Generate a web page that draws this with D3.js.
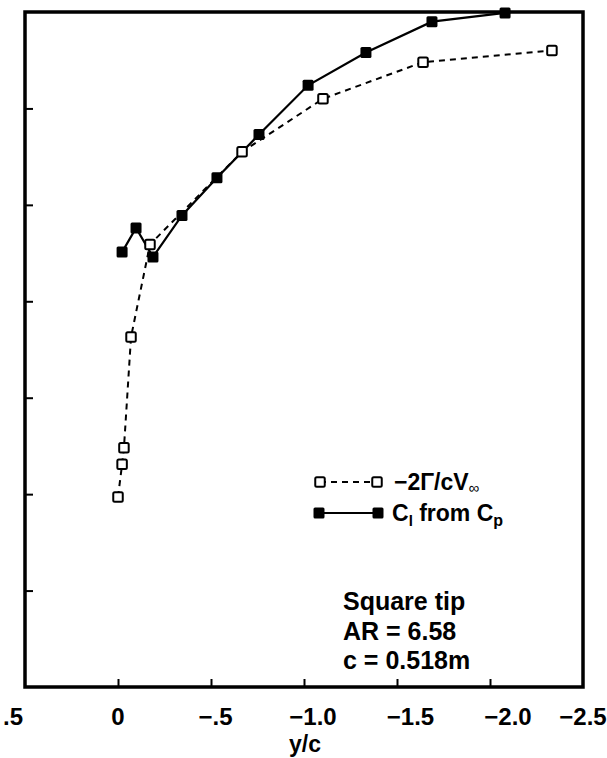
<!DOCTYPE html>
<html>
<head>
<meta charset="utf-8">
<script src="https://cdn.jsdelivr.net/npm/d3@7"></script>
<style>
  html, body { margin: 0; padding: 0; background: #fff; }
  svg { display: block; }
  text { font-family: "Liberation Sans", Arial, Helvetica, sans-serif; font-weight: bold; fill: #000; }
</style>
</head>
<body>
<svg id="chart" width="607" height="758"></svg>
<script>
// ---- data ----
const gammaX = [0.0, -0.022, -0.032, -0.070, -0.172, -0.667, -1.102, -1.640, -2.333];
const gammaY = [0.197, 0.231, 0.248, 0.363, 0.459, 0.555, 0.610, 0.648, 0.660];

const clX = [-0.022, -0.097, -0.188, -0.344, -0.532, -0.758, -1.022, -1.333, -1.688, -2.081];
const clY = [0.451, 0.476, 0.446, 0.489, 0.528, 0.573, 0.624, 0.658, 0.690, 0.699];

const xTickValues = [0.5, 0, -0.5, -1.0, -1.5, -2.0, -2.5];
const xTickLabels = [".5", "0", "\u2212.5", "\u22121.0", "\u22121.5", "\u22122.0", "\u22122.5"];
const yTickValues = [0.1, 0.2, 0.3, 0.4, 0.5, 0.6];

// ---- layout ----
const svg = d3.select("#chart");
const L = 25, R = 583, T = 12, B = 687;

const x = d3.scaleLinear().domain([0.5, -2.5]).range([L, R]);
const y = d3.scaleLinear().domain([0, 0.7]).range([B, T]);
// the printed tick labels sit on a slightly wider pitch than the tick marks
const xLabel = d3.scaleLinear().domain([0.5, 0, -2.0, -2.5]).range([13, 118, 508, 583]);

// axes ticks (inside)
const xAxis = d3.axisTop(x).tickValues(xTickValues.slice(1, -1)).tickSize(8).tickFormat("");
const gx = svg.append("g").attr("transform", `translate(0,${B})`).call(xAxis);
gx.select(".domain").remove();
gx.selectAll("line").attr("stroke", "#000").attr("stroke-width", 2);

const yAxis = d3.axisRight(y).tickValues(yTickValues).tickSize(8).tickFormat("");
const gy = svg.append("g").attr("transform", `translate(${L},0)`).call(yAxis);
gy.select(".domain").remove();
gy.selectAll("line").attr("stroke", "#000").attr("stroke-width", 2);

// frame
svg.append("rect")
  .attr("x", L).attr("y", T).attr("width", R - L).attr("height", B - T)
  .attr("fill", "none").attr("stroke", "#000").attr("stroke-width", 3.5);

// tick labels
svg.append("g").selectAll("text")
  .data(xTickValues)
  .join("text")
  .attr("x", d => xLabel(d))
  .attr("y", 725)
  .attr("text-anchor", "middle")
  .attr("font-size", 24)
  .text((d, i) => xTickLabels[i]);

// axis title
svg.append("text")
  .attr("x", 305).attr("y", 752)
  .attr("text-anchor", "middle")
  .attr("font-size", 23)
  .text("y/c");

// ---- series ----
const gammaPts = gammaX.map((v, i) => [v, gammaY[i]]);
const clPts = clX.map((v, i) => [v, clY[i]]);
const line = d3.line().x(d => x(d[0])).y(d => y(d[1]));

svg.append("path")
  .attr("d", line(gammaPts))
  .attr("fill", "none").attr("stroke", "#000")
  .attr("stroke-width", 2).attr("stroke-dasharray", "6,5");

svg.append("path")
  .attr("d", line(clPts))
  .attr("fill", "none").attr("stroke", "#000")
  .attr("stroke-width", 2.2);

const openS = 9.5, fillS = 11;
svg.append("g").selectAll("rect")
  .data(gammaPts).join("rect")
  .attr("x", d => x(d[0]) - openS / 2)
  .attr("y", d => y(d[1]) - openS / 2)
  .attr("width", openS).attr("height", openS)
  .attr("rx", 1.5)
  .attr("fill", "#fff").attr("stroke", "#000").attr("stroke-width", 2);

svg.append("g").selectAll("rect")
  .data(clPts).join("rect")
  .attr("x", d => x(d[0]) - fillS / 2)
  .attr("y", d => y(d[1]) - fillS / 2)
  .attr("width", fillS).attr("height", fillS)
  .attr("rx", 1.5)
  .attr("fill", "#000");

// ---- legend ----
const lg = svg.append("g");
// row 1
lg.append("line").attr("x1", 320).attr("x2", 377).attr("y1", 482).attr("y2", 482)
  .attr("stroke", "#000").attr("stroke-width", 2).attr("stroke-dasharray", "6,5");
[320, 377].forEach(cx => {
  lg.append("rect").attr("x", cx - openS / 2).attr("y", 482 - openS / 2)
    .attr("width", openS).attr("height", openS).attr("rx", 1.5)
    .attr("fill", "#fff").attr("stroke", "#000").attr("stroke-width", 2);
});
const t1 = lg.append("text").attr("x", 394).attr("y", 490).attr("font-size", 23);
t1.append("tspan").text("\u22122\u0393/cV");
t1.append("tspan").attr("font-size", 15).attr("font-weight", "normal").attr("font-style", "italic").attr("dy", 3).text("\u221E");

// row 2
lg.append("line").attr("x1", 319).attr("x2", 378).attr("y1", 513).attr("y2", 513)
  .attr("stroke", "#000").attr("stroke-width", 2.2);
[319, 378].forEach(cx => {
  lg.append("rect").attr("x", cx - fillS / 2).attr("y", 513 - fillS / 2)
    .attr("width", fillS).attr("height", fillS).attr("rx", 1.5).attr("fill", "#000");
});
const t2 = lg.append("text").attr("x", 392).attr("y", 521).attr("font-size", 23);
t2.append("tspan").text("C");
t2.append("tspan").attr("font-size", 15).attr("dy", 5).text("l");
t2.append("tspan").attr("dy", -5).text(" from C");
t2.append("tspan").attr("font-size", 16).attr("dy", 5).text("p");

// ---- annotation ----
const notes = ["Square tip", "AR = 6.58", "c = 0.518m"];
svg.append("g").selectAll("text")
  .data(notes).join("text")
  .attr("x", 343)
  .attr("y", (d, i) => 610 + i * 29.5)
  .attr("font-size", 25)
  .text(d => d);
</script>
</body>
</html>
